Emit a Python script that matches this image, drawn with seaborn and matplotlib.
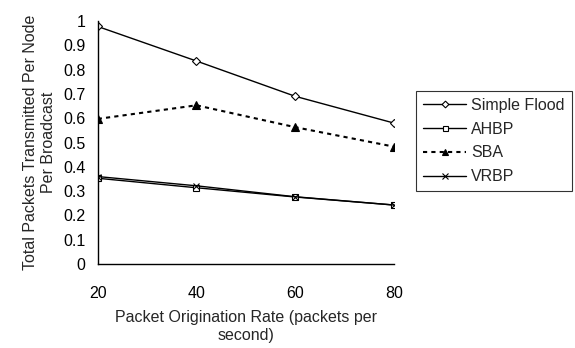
import matplotlib
matplotlib.use("Agg")
import matplotlib.pyplot as plt
import seaborn as sns
import pandas as pd

rates = [20, 40, 60, 80]
simple_flood = [0.977, 0.835, 0.690, 0.580]
ahbp = [0.353, 0.314, 0.276, 0.243]
sba = [0.597, 0.653, 0.563, 0.483]
vrbp = [0.360, 0.322, 0.277, 0.243]
y_ticks = [0, 0.1, 0.2, 0.3, 0.4, 0.5, 0.6, 0.7, 0.8, 0.9, 1]
y_tick_labels = ["0", "0.1", "0.2", "0.3", "0.4", "0.5", "0.6", "0.7", "0.8", "0.9", "1"]

sns.set_style("white")
plt.rcParams["font.family"] = ["Liberation Sans", "DejaVu Sans"]
fs = 11.5

fig = plt.figure(figsize=(5.75, 3.48), dpi=100)
ax = fig.add_axes([0.170, 0.241, 0.515, 0.699])

series = [
    ("Simple Flood", simple_flood, "D", "white", "-", 3.8),
    ("AHBP", ahbp, "s", "white", "-", 4.0),
    ("SBA", sba, "^", "black", (0, (2, 2)), 5.5),
    ("VRBP", vrbp, "x", "black", "-", 5.0),
]
for name, vals, mk, face, ls, ms in series:
    df = pd.DataFrame({"rate": rates, "value": vals})
    sns.lineplot(data=df, x="rate", y="value", ax=ax, color="black",
                 marker=mk, markerfacecolor=face, markeredgecolor="black",
                 markersize=ms, markeredgewidth=0.8, linestyle=ls,
                 linewidth=1.0 if ls == "-" else 1.5, label=name)

ax.set_xlim(20, 80)
ax.set_ylim(0, 1)
ax.set_xticks(rates)
ax.set_yticks(y_ticks)
ax.set_yticklabels(y_tick_labels)
ax.tick_params(axis="both", direction="in", length=4, width=0.8,
               labelsize=fs, colors="black")
ax.tick_params(axis="x", pad=16)
ax.tick_params(axis="y", pad=9)
for side in ["top", "right"]:
    ax.spines[side].set_visible(False)
for side in ["left", "bottom"]:
    ax.spines[side].set_color("black")
    ax.spines[side].set_linewidth(1.0)

ax.set_xlabel("Packet Origination Rate (packets per\nsecond)", fontsize=fs, labelpad=6,
              linespacing=1.25)
ax.set_ylabel("Total Packets Transmitted Per Node\nPer Broadcast", fontsize=fs,
              labelpad=5, linespacing=1.25)

leg = ax.legend(loc="upper left", bbox_to_anchor=(1.075, 0.713), frameon=True,
                fancybox=False, edgecolor="black", fontsize=fs,
                handlelength=2.7, borderpad=0.45, labelspacing=0.55,
                handletextpad=0.3, borderaxespad=0, markerscale=0.9)
leg.get_frame().set_linewidth(0.8)

fig.savefig("out.png", dpi=100)
